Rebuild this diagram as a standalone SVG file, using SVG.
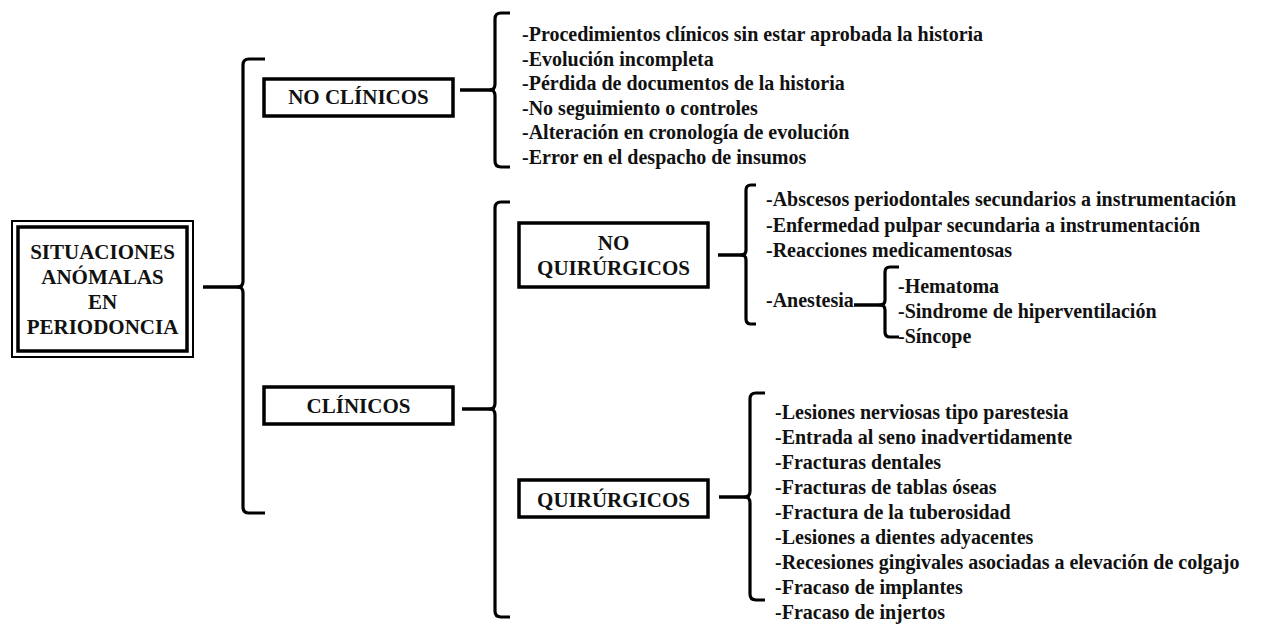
<svg xmlns="http://www.w3.org/2000/svg" width="1262" height="624" viewBox="0 0 1262 624">
<style>
.box{fill:#fff;stroke:#000;stroke-width:3.5;}
.br{fill:none;stroke:#000;stroke-width:3.2;stroke-linejoin:round;}
.cn{stroke:#000;stroke-width:3.5;}
</style>
<rect width="1262" height="624" fill="#fff"/>
<g id="connectors">
<line class="cn" x1="203" y1="287" x2="241" y2="287"/>
<path class="br" d="M265 59 L249 59 Q243 59 243 65 L243 281 Q243 287 238 287 Q243 287 243 293 L243 507 Q243 513 249 513 L265 513"/>
<line class="cn" x1="460" y1="90" x2="493" y2="90"/>
<path class="br" d="M510 13 L501 13 Q495 13 495 19 L495 84 Q495 90 490 90 Q495 90 495 96 L495 161 Q495 167 501 167 L510 167"/>
<line class="cn" x1="462" y1="409" x2="493" y2="409"/>
<path class="br" d="M510 202 L501 202 Q495 202 495 208 L495 403 Q495 409 490 409 Q495 409 495 415 L495 611 Q495 617 501 617 L510 617"/>
<line class="cn" x1="718" y1="255" x2="744" y2="255"/>
<path class="br" d="M756 185 L751 185 Q746 185 746 190 L746 250 Q746 255 741 255 Q746 255 746 260 L746 319 Q746 324 751 324 L756 324"/>
<line class="cn" x1="854" y1="305" x2="883" y2="305"/>
<path class="br" d="M899 267 L890 267 Q885 267 885 272 L885 300 Q885 305 880 305 Q885 305 885 310 L885 332 Q885 337 890 337 L899 337"/>
<line class="cn" x1="719" y1="497" x2="748" y2="497"/>
<path class="br" d="M765 393 L756 393 Q750 393 750 399 L750 491 Q750 497 745 497 Q750 497 750 503 L750 594 Q750 600 756 600 L765 600"/>
</g>
<g id="root">
<rect x="12" y="221" width="181" height="136" fill="#fff" stroke="#000" stroke-width="2"/>
<rect x="18" y="227" width="169" height="124" fill="none" stroke="#000" stroke-width="3.5"/>
<text font-family="Liberation Serif" font-weight="bold" font-size="21" text-anchor="middle" fill="#111" x="102.5" y="259">SITUACIONES</text>
<text font-family="Liberation Serif" font-weight="bold" font-size="21" text-anchor="middle" fill="#111" x="102.5" y="284">ANÓMALAS</text>
<text font-family="Liberation Serif" font-weight="bold" font-size="21" text-anchor="middle" fill="#111" x="102.5" y="309">EN</text>
<text font-family="Liberation Serif" font-weight="bold" font-size="21" text-anchor="middle" fill="#111" x="102.5" y="334">PERIODONCIA</text>
</g>
<g id="no-clinicos">
<rect class="box" x="264" y="79" width="189" height="37"/>
<text font-family="Liberation Serif" font-weight="bold" font-size="21" text-anchor="middle" fill="#111" x="358.5" y="104">NO CLÍNICOS</text>
</g>
<g id="clinicos">
<rect class="box" x="264" y="387" width="189" height="37"/>
<text font-family="Liberation Serif" font-weight="bold" font-size="21" text-anchor="middle" fill="#111" x="358.5" y="413">CLÍNICOS</text>
</g>
<g id="no-quirurgicos">
<rect class="box" x="519" y="223" width="189" height="64"/>
<text font-family="Liberation Serif" font-weight="bold" font-size="21" text-anchor="middle" fill="#111" x="613.5" y="250">NO</text>
<text font-family="Liberation Serif" font-weight="bold" font-size="21" text-anchor="middle" fill="#111" x="613.5" y="275">QUIRÚRGICOS</text>
</g>
<g id="quirurgicos">
<rect class="box" x="519" y="480" width="189" height="37"/>
<text font-family="Liberation Serif" font-weight="bold" font-size="21" text-anchor="middle" fill="#111" x="613.5" y="507">QUIRÚRGICOS</text>
</g>
<g id="no-clinicos-items">
<text font-family="Liberation Serif" font-weight="bold" font-size="20" fill="#111" x="522" y="41">-Procedimientos clínicos sin estar aprobada la historia</text>
<text font-family="Liberation Serif" font-weight="bold" font-size="20" fill="#111" x="522" y="65.6">-Evolución incompleta</text>
<text font-family="Liberation Serif" font-weight="bold" font-size="20" fill="#111" x="522" y="90.2">-Pérdida de documentos de la historia</text>
<text font-family="Liberation Serif" font-weight="bold" font-size="20" fill="#111" x="522" y="114.8">-No seguimiento o controles</text>
<text font-family="Liberation Serif" font-weight="bold" font-size="20" fill="#111" x="522" y="139.4">-Alteración en cronología de evolución</text>
<text font-family="Liberation Serif" font-weight="bold" font-size="20" fill="#111" x="522" y="164">-Error en el despacho de insumos</text>
</g>
<g id="no-quirurgicos-items">
<text font-family="Liberation Serif" font-weight="bold" font-size="20" fill="#111" x="766" y="206">-Abscesos periodontales secundarios a instrumentación</text>
<text font-family="Liberation Serif" font-weight="bold" font-size="20" fill="#111" x="766" y="232">-Enfermedad pulpar secundaria a instrumentación</text>
<text font-family="Liberation Serif" font-weight="bold" font-size="20" fill="#111" x="766" y="257">-Reacciones medicamentosas</text>
<text font-family="Liberation Serif" font-weight="bold" font-size="20" fill="#111" x="766" y="307">-Anestesia</text>
</g>
<g id="anestesia-items">
<text font-family="Liberation Serif" font-weight="bold" font-size="20" fill="#111" x="898" y="293">-Hematoma</text>
<text font-family="Liberation Serif" font-weight="bold" font-size="20" fill="#111" x="898" y="318">-Sindrome de hiperventilación</text>
<text font-family="Liberation Serif" font-weight="bold" font-size="20" fill="#111" x="898" y="343">-Síncope</text>
</g>
<g id="quirurgicos-items">
<text font-family="Liberation Serif" font-weight="bold" font-size="20" fill="#111" x="775" y="419">-Lesiones nerviosas tipo parestesia</text>
<text font-family="Liberation Serif" font-weight="bold" font-size="20" fill="#111" x="775" y="444">-Entrada al seno inadvertidamente</text>
<text font-family="Liberation Serif" font-weight="bold" font-size="20" fill="#111" x="775" y="469">-Fracturas dentales</text>
<text font-family="Liberation Serif" font-weight="bold" font-size="20" fill="#111" x="775" y="494">-Fracturas de tablas óseas</text>
<text font-family="Liberation Serif" font-weight="bold" font-size="20" fill="#111" x="775" y="519">-Fractura de la tuberosidad</text>
<text font-family="Liberation Serif" font-weight="bold" font-size="20" fill="#111" x="775" y="544">-Lesiones a dientes adyacentes</text>
<text font-family="Liberation Serif" font-weight="bold" font-size="20" fill="#111" x="775" y="569">-Recesiones gingivales asociadas a elevación de colgajo</text>
<text font-family="Liberation Serif" font-weight="bold" font-size="20" fill="#111" x="775" y="594">-Fracaso de implantes</text>
<text font-family="Liberation Serif" font-weight="bold" font-size="20" fill="#111" x="775" y="619">-Fracaso de injertos</text>
</g>
</svg>
